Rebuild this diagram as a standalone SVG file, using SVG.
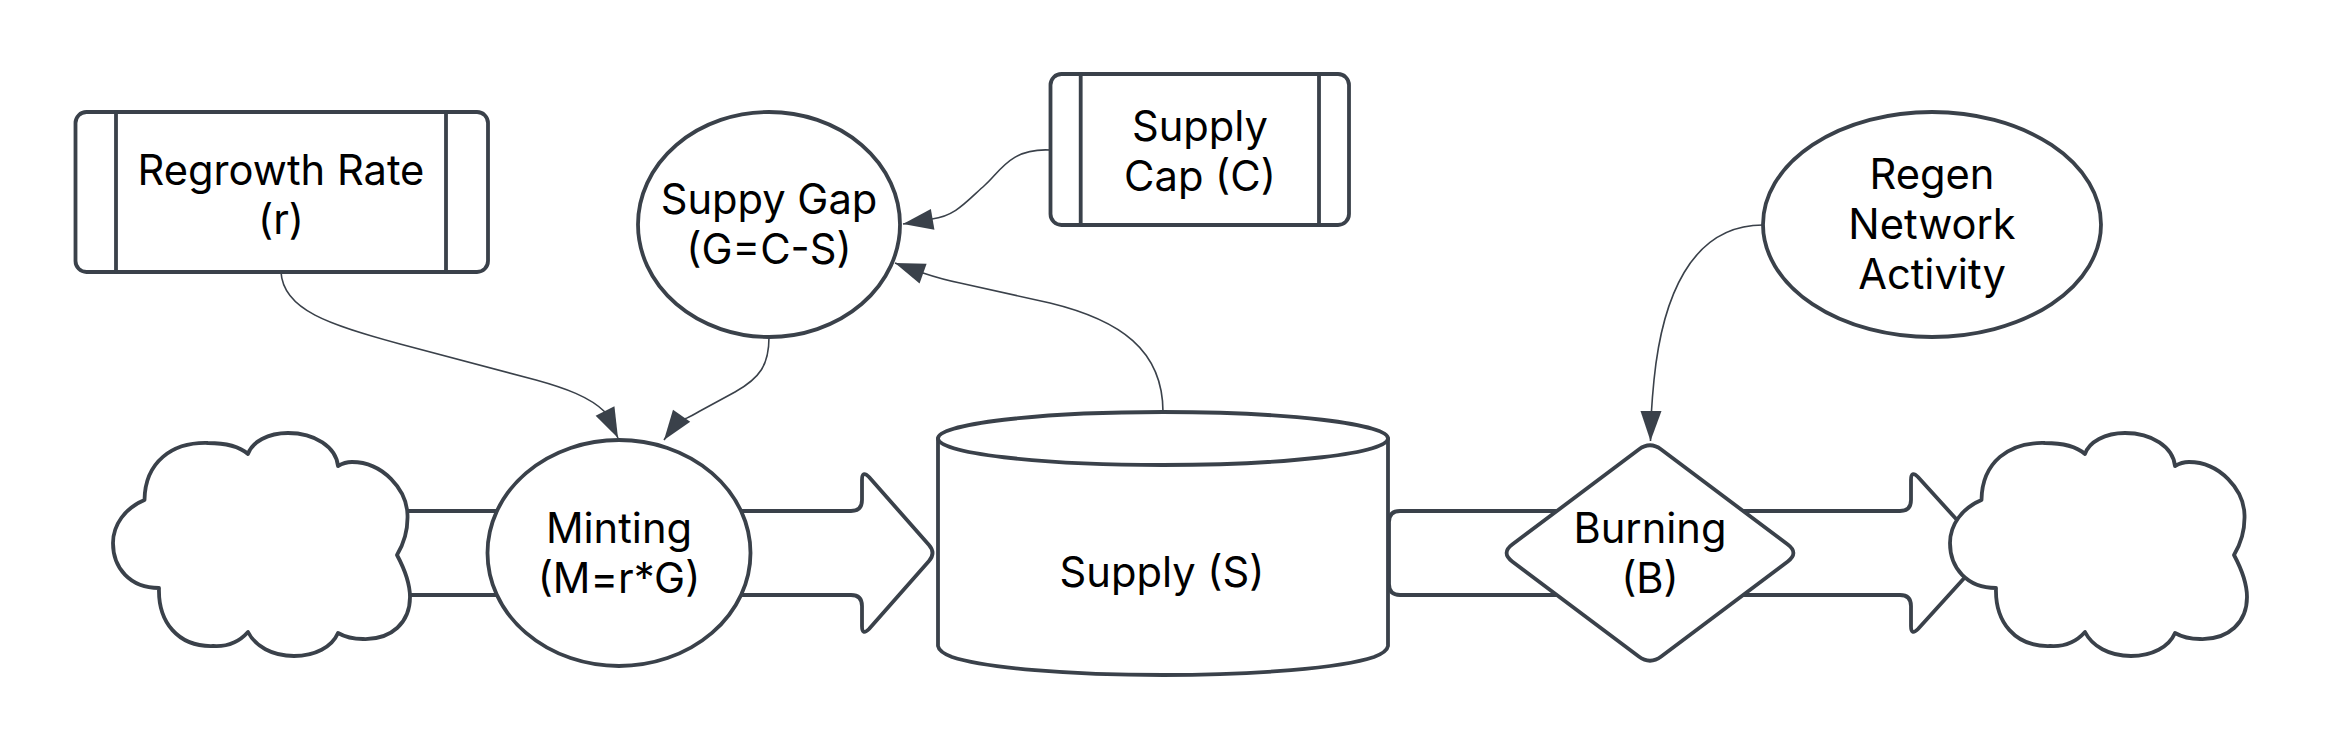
<svg xmlns="http://www.w3.org/2000/svg" width="2340" height="750" viewBox="0 0 2340 750">
<style>
.s{fill:#fff;stroke:#3a414a;stroke-width:3.8;stroke-linejoin:round;stroke-linecap:round}
.c{fill:none;stroke:#3a414a;stroke-width:1.6;marker-end:url(#ah)}
text{font-family:Inter,"Liberation Sans",sans-serif;font-size:41.67px;fill:#000;text-anchor:middle}
</style>
<defs>
<marker id="ah" markerUnits="userSpaceOnUse" markerWidth="32" markerHeight="24" refX="31" refY="11" orient="auto" overflow="visible"><path d="M1 0L31 11L1 21Z" fill="#3a414a" stroke="none"/></marker>
<path id="cloud" d="M144.500 500C145 462 172 442 208 443C225 443 240 447 248 454C252 442 268 433 288 433C315 433 336 447 338 466C343 463 347 462 352 462C383 462 407 490 407.500 515C408 530 403 545 397 555C405 570 410 585 410 597C410 622 392 640 363 639C355 639 345 637 338 633C332 647 315 656 294 656C272 656 255 646 248 632C240 641 228 647 213 646C178 647 158 622 159 588C130 588 113 568 113 543C113 525 125 508 144.500 500Z"/>
</defs>
<rect width="2340" height="750" fill="#fff"/>
<g id="connectors">
<path class="s" d="M390 511L851 511Q862 511 862 500L862 480Q862 470 869 477L929 545Q936 553 929 561L869 629Q862 636 862 626L862 606Q862 595 851 595L390 595"/>
<path class="s" d="M1900 511L1400 511Q1389 511 1389 522L1389 584Q1389 595 1400 595L1900 595Q1911 595 1911 606L1911 626Q1911 636 1918 629L1987 553L1918 477Q1911 470 1911 480L1911 500Q1911 511 1900 511Z"/>
<path class="c" d="M281 272C283 310 330 325 400 344L536 380C565 388 590 397 605 412L618 438"/>
<path class="c" d="M769 337C769 365 760 378 735 392L700 411C688 418 684 420 678 420L664 440"/>
<path class="c" d="M1163 412C1163 350 1120 320 1050 303L960 283C945 280 935 277 923 273L895 263"/>
<path class="c" d="M1050 150C1010 148 1000 172 985 185C965 203 955 216 932 219L903 224"/>
<path class="c" d="M1763 225C1690 225 1662 300 1654 380C1651 410 1650.500 425 1650.500 441"/>
</g>
<g id="cloud-source"><use href="#cloud" class="s"/></g>
<g id="cloud-sink"><use href="#cloud" class="s" x="1837"/></g>
<g id="regrowth-rate">
<rect class="s" x="75.500" y="112" width="412.500" height="160" rx="11"/>
<path class="s" d="M116 112V272M446 112V272"/>
<text x="281" y="184.500">Regrowth Rate</text><text x="281" y="233.500">(r)</text>
</g>
<g id="supply-gap">
<ellipse class="s" cx="769" cy="224.500" rx="131" ry="112.500"/>
<text x="769" y="214">Suppy Gap</text><text x="769" y="264">(G=C-S)</text>
</g>
<g id="supply-cap">
<rect class="s" x="1050.500" y="74" width="298.500" height="151" rx="11"/>
<path class="s" d="M1080.700 74V225M1319 74V225"/>
<text x="1200" y="140.500">Supply</text><text x="1200" y="190.500">Cap (C)</text>
</g>
<g id="regen-network-activity">
<ellipse class="s" cx="1932" cy="224.500" rx="169" ry="112.500"/>
<text x="1932" y="188.500">Regen</text><text x="1932" y="238.500">Network</text><text x="1932" y="288.500">Activity</text>
</g>
<g id="minting">
<ellipse class="s" cx="619" cy="553" rx="131.500" ry="113"/>
<text x="619" y="542.500">Minting</text><text x="619" y="592.500">(M=r*G)</text>
</g>
<g id="supply">
<path class="s" d="M938 438.500L938 646Q939 652 952 657C985 668 1070 675 1163 675C1256 675 1341 668 1374 657Q1387 652 1388 646L1388 438.500"/>
<ellipse class="s" cx="1163" cy="438.500" rx="225" ry="26.500"/>
<text x="1162" y="587">Supply (S)</text>
</g>
<g id="burning">
<path class="s" d="M1638.800 449.400Q1650 441 1661.200 449.400L1787.800 544.600Q1799 553 1787.800 561.400L1661.200 656.600Q1650 665 1638.800 656.600L1512.200 561.400Q1501 553 1512.200 544.600Z"/>
<text x="1650" y="542.500">Burning</text><text x="1650" y="592.500">(B)</text>
</g>
</svg>
